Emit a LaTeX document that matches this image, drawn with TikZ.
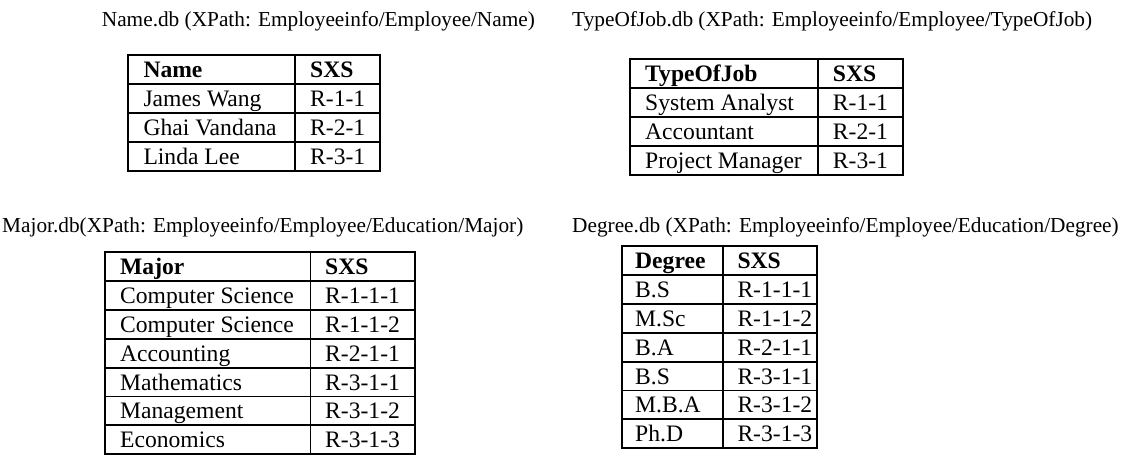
\documentclass[tikz,border=0pt]{standalone}
\usepackage{fontspec}
\setmainfont{Liberation Serif}
\tikzset{
  capt/.style={anchor=base west, inner sep=0pt, font=\fontsize{21.3pt}{24pt}\selectfont},
  cell/.style={anchor=base west, inner sep=0pt, font=\fontsize{23.6pt}{26pt}\selectfont},
  hcell/.style={anchor=base west, inner sep=0pt, font=\fontsize{23.6pt}{26pt}\selectfont\bfseries},
  outerline/.style={line width=2.3pt},
  innerline/.style={line width=1.9pt},
}
\begin{document}
\begin{tikzpicture}[x=1pt,y=-1pt]
\useasboundingbox (0,0) rectangle (1133,456);

% ---------- captions
\node[capt] (c1) at (101.7,26.5) {Name.db (XPath: Employeeinfo/Employee/Name)};
\node[capt] (c2) at (572,26.5) {TypeOfJob.db (XPath: Employeeinfo/Employee/TypeOfJob)};
\node[capt] (c3) at (2,232) {Major.db(XPath: Employeeinfo/Employee/Education/Major)};
\node[capt] (c4) at (572,232) {Degree.db (XPath: Employeeinfo/Employee/Education/Degree)};

% ---------- Name table
\foreach \k in {1,2,3} \draw[innerline] (127.7,{55+29*\k}) -- (380,{55+29*\k});
\draw[innerline] (295,55) -- (295,171);
\draw[outerline] (127.7,55) rectangle (380,171);
\node[hcell] (nh1) at (143.3,77.5) {Name};
\node[hcell] (nh2) at (310,77.5) {SXS};
\foreach [count=\i] \a/\b in {James Wang/R-1-1,Ghai Vandana/R-2-1,Linda Lee/R-3-1} {
  \node[cell] (n\i a) at (143.3,{55+29*(\i+1)-6.5}) {\a};
  \node[cell] (n\i b) at (310,{55+29*(\i+1)-6.5}) {\b};
}

% ---------- TypeOfJob table
\foreach \k in {1,2,3} \draw[innerline] (630,{59.3+29*\k}) -- (903.3,{59.3+29*\k});
\draw[innerline] (818.3,59.3) -- (818.3,175.3);
\draw[outerline] (630,59.3) rectangle (903.3,175.3);
\node[hcell] (th1) at (645,81.8) {TypeOfJob};
\node[hcell] (th2) at (832.7,81.8) {SXS};
\foreach [count=\i] \a/\b in {System Analyst/R-1-1,Accountant/R-2-1,Project Manager/R-3-1} {
  \node[cell] (t\i a) at (645,{59.3+29*(\i+1)-6.5}) {\a};
  \node[cell] (t\i b) at (832.7,{59.3+29*(\i+1)-6.5}) {\b};
}

% ---------- Major table
\foreach \k in {1,...,6} \draw[innerline] (105,{252+28.9*\k}) -- (415,{252+28.9*\k});
\draw[innerline] (310.5,252) -- (310.5,454.3);
\draw[outerline] (105,252) rectangle (415,454.3);
\node[hcell] (mh1) at (120,274.4) {Major};
\node[hcell] (mh2) at (325,274.4) {SXS};
\foreach [count=\i] \a/\b in {Computer Science/R-1-1-1,Computer Science/R-1-1-2,Accounting/R-2-1-1,Mathematics/R-3-1-1,Management/R-3-1-2,Economics/R-3-1-3} {
  \node[cell] (m\i a) at (120,{252+28.9*(\i+1)-6.5}) {\a};
  \node[cell] (m\i b) at (325,{252+28.9*(\i+1)-6.5}) {\b};
}

% ---------- Degree table
\foreach \k in {1,...,6} \draw[innerline] (621.7,{246+28.9*\k}) -- (817.3,{246+28.9*\k});
\draw[innerline] (722.7,246) -- (722.7,448.3);
\draw[outerline] (621.7,246) rectangle (817.3,448.3);
\node[hcell] (dh1) at (635,268.4) {Degree};
\node[hcell] (dh2) at (737.3,268.4) {SXS};
\foreach [count=\i] \a/\b in {B.S/R-1-1-1,M.Sc/R-1-1-2,B.A/R-2-1-1,B.S/R-3-1-1,M.B.A/R-3-1-2,Ph.D/R-3-1-3} {
  \node[cell] (d\i a) at (635,{246+28.9*(\i+1)-6.5}) {\a};
  \node[cell] (d\i b) at (737.3,{246+28.9*(\i+1)-6.5}) {\b};
}
\end{tikzpicture}
\end{document}
